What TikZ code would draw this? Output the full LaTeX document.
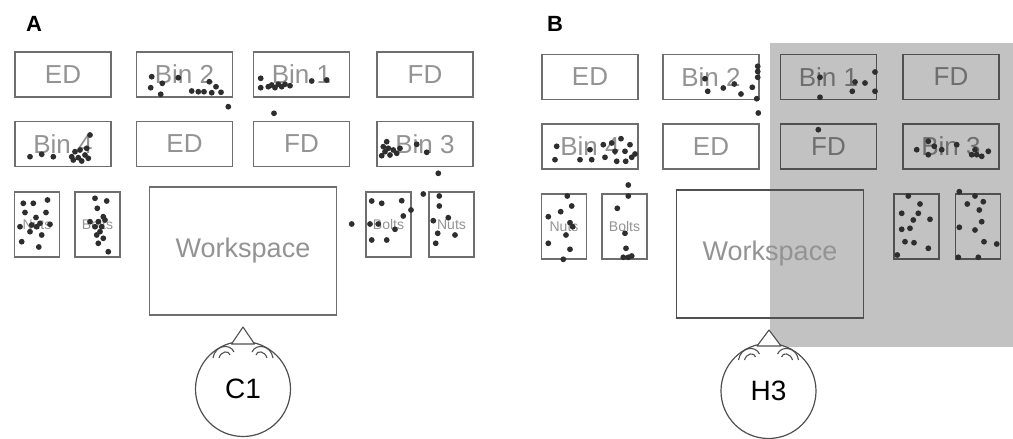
\documentclass[tikz,border=0pt]{standalone}
\usepackage{fontspec}
\setmainfont{Liberation Sans}
\definecolor{edgegray}{HTML}{6E6E6E}
\definecolor{labelgray}{HTML}{939393}
\definecolor{panelshade}{HTML}{C2C2C2}
\definecolor{dotc}{HTML}{2E2E2E}
\definecolor{headgray}{HTML}{505050}
\begin{document}
\begin{tikzpicture}[x=1pt,y=-1pt,
  bin/.style={draw=edgegray, line width=1.3pt, minimum width=96pt, minimum height=45pt,
    inner sep=0pt, text=labelgray, font=\fontsize{26}{26}\selectfont},
  tray/.style={draw=edgegray, line width=1.3pt, minimum width=45pt, minimum height=65pt,
    inner sep=0pt, text=labelgray, font=\fontsize{14}{14}\selectfont},
  work/.style={draw=edgegray, line width=1.3pt, minimum width=187pt, minimum height=128pt,
    inner sep=0pt, text=labelgray, font=\fontsize{27}{27}\selectfont},
  head/.style={circle, draw=headgray, line width=1.2pt, fill=white, minimum size=95pt,
    inner sep=0pt, font=\fontsize{28}{28}\selectfont},
  nose/.style={draw=headgray, line width=1.1pt, fill=white, line join=round},
  ear/.style={draw=headgray, line width=1.1pt},
  panel/.style={font=\bfseries\fontsize{22}{22}\selectfont},
  pt/.style={fill=dotc}
]
\useasboundingbox (0,0) rectangle (1013,439);

% shaded half of panel B
\fill[panelshade] (770,43) rectangle (1013,347);

% panel letters
\node[panel] (labA) at (34,24) {A};
\node[panel] (labB) at (555,24) {B};

% ---------- panel A layout ----------
\node[bin] (aED1) at (63,74.5) {ED};
\node[bin] (aBin2) at (184.5,74.5) {Bin 2};
\node[bin] (aBin1) at (301.5,74.5) {Bin 1};
\node[bin] (aFD1) at (425,74.5) {FD};
\node[bin] (aBin4) at (63,144) {Bin 4};
\node[bin] (aED2) at (184.5,144) {ED};
\node[bin] (aFD2) at (301.5,144) {FD};
\node[bin] (aBin3) at (425,144) {Bin 3};
\node[tray] (aNutsL) at (37,224.5) {Nuts};
\node[tray] (aBoltsL) at (97.5,224.5) {Bolts};
\node[tray] (aBoltsR) at (388.5,224.5) {Bolts};
\node[tray] (aNutsR) at (451.5,224.5) {Nuts};
\node[work] (aWork) at (243,251) {Workspace};

% ---------- panel B layout ----------
\node[bin] (bED1) at (590,77) {ED};
\node[bin] (bBin2) at (711,77) {Bin 2};
\node[bin, draw=headgray, text=edgegray] (bBin1) at (828.5,77) {Bin 1};
\node[bin, draw=headgray, text=edgegray] (bFD1) at (951,77) {FD};
\node[bin] (bBin4) at (590,146.5) {Bin 4};
\node[bin] (bED2) at (711,146.5) {ED};
\node[bin, draw=headgray, text=edgegray] (bFD2) at (828.5,146.5) {FD};
\node[bin, draw=headgray, text=edgegray] (bBin3) at (951,146.5) {Bin 3};
\node[tray] (bNutsL) at (564,226.5) {Nuts};
\node[tray] (bBoltsL) at (624.5,226.5) {Bolts};
\node[tray, draw=headgray] (bTrayR1) at (916.5,226.5) {};
\node[tray, draw=headgray] (bTrayR2) at (978,226.5) {};
\node[work, draw=headgray] (bWork) at (770,254) {Workspace};

% ---------- parts scattered in panel A ----------
\foreach \x/\y in {151.7/76.7, 150.7/87.7, 162.3/83.3, 160.7/94.3, 178.3/77.7, 191.7/91,
  198.3/91.7, 204/91.7, 209.3/81.7, 211.7/92.7, 216/86.7, 221/92.3, 228.3/106.7,
  260.7/78.3, 260.7/87.7, 268.3/86.7, 271.7/85, 275/87.7, 278.3/84.3, 281.7/86.7,
  285/84.3, 290/85.7, 311.7/81, 326.7/80, 274/113.3,
  30/156.7, 41.7/154.3, 53.3/156.7, 90/135, 71.7/156.7, 75/151.7, 80/150, 85/155,
  78.3/157.7, 73.3/160, 81.7/161, 88.3/158.3, 86.7/148.3,
  383.3/146.7, 385/151.7, 388.3/148.3, 390/155, 393.3/150, 396.7/153.3, 386.7/141.7,
  400/148.3, 416.7/144.3, 426.7/152.3, 381.7/155.7, 438.3/173.3,
  23.3/203.3, 33.3/203.3, 47.5/200, 25/212.5, 46/212.5, 36/217.5, 20/226.7, 31.7/225,
  36.7/226.7, 40/223.3, 30/231.7, 41.7/235, 50/224.3, 21.7/241.7, 38.8/247,
  95/198.3, 106.7/201, 97.3/208.3, 103.3/216.7, 90/221.7, 98.3/221.7, 105/220,
  101.7/226.7, 95/226.7, 96.7/235, 103.3/238.3, 98.3/243.3, 108.3/251.7, 100/231.7,
  371.7/201, 381.7/203.3, 401.7/200.7, 411/210, 403.3/216, 370/224, 378.3/224,
  395/229.3, 371.7/240, 386.7/240, 351.7/224, 423.3/194,
  439.3/196, 439.3/206, 433.3/220.7, 448.3/217.7, 437.7/233.3, 455/235, 435.7/243.3}
  \fill[pt] (\x,\y) circle (2.9pt);

% ---------- parts scattered in panel B ----------
\foreach \x/\y in {705/78.7, 707.7/91.3, 723.3/88, 734.3/84, 741/94, 752.3/87.3,
  757.7/66.3, 757.7/71.5, 757.7/77.3, 756.7/98.7, 758.3/113,
  820/77.3, 820/97.3, 852.3/91.3, 855/82, 865/83, 875/72, 875/91.3,
  556.7/146.3, 555/159.7, 580/159.7, 590/149.7, 591.7/159.7, 603.3/144.7, 611.7/143,
  621/138.7, 630/144.7, 615/151.3, 605/157.3, 625/151.3, 631.7/157.3, 616.7/161.3,
  625.7/161.3, 635/154,
  818.3/129.7, 916.7/149.7, 928.3/141.3, 928.3/154.7, 934.3/146.3, 941.7/149.7,
  956.7/144.7, 971.7/154.7, 976.7/154.7, 981.7/156.3, 988.3/151.3, 975/149.7,
  567.3/196, 571.7/206, 560.7/211.7, 548.3/216.7, 570/222.7, 572.7/226.7, 566/235,
  548.3/243.3, 570/249.3, 563.3/259.3,
  628.3/185, 628.3/196, 617.3/208.3, 625/233.3, 626/248.3, 623.3/257.3, 628.3/257.3,
  631.7/256,
  908.3/196, 920/204, 918.3/213.3, 901.7/213.3, 913.3/220, 930/219.3, 901.7/229.3,
  910/228.3, 905/241.7, 914/242.7, 928.3/248.3, 897.3/255,
  959.3/191.7, 975/196, 983.3/201.7, 967.3/204, 979.3/210, 981.7/221.7, 959.3/227.3,
  975/230, 984/241.7, 996.7/244, 958.3/257.3, 978.3/257.3}
  \fill[pt] (\x,\y) circle (2.9pt);

% ---------- observers ----------
\node[head] (headA) at (243,389) {C1};
\draw[nose] (243,327) -- (231.5,344) -- (254.5,344) -- cycle;
\draw[ear] (213,358) .. controls (215,345) and (230,343) .. (234,352);
\draw[ear] (219,358) .. controls (221,351) and (229,350) .. (230,355);
\draw[ear] (273,358) .. controls (271,345) and (256,343) .. (252,352);
\draw[ear] (267,358) .. controls (265,351) and (257,350) .. (256,355);

\node[head] (headB) at (768.5,391) {H3};
\draw[nose] (769,330) -- (757,346) -- (781,346) -- cycle;
\draw[ear] (738.5,360) .. controls (740.5,347) and (755.5,345) .. (759.5,354);
\draw[ear] (744.5,360) .. controls (746.5,353) and (754.5,352) .. (755.5,357);
\draw[ear] (798.5,360) .. controls (796.5,347) and (781.5,345) .. (777.5,354);
\draw[ear] (792.5,360) .. controls (790.5,353) and (782.5,352) .. (781.5,357);
\end{tikzpicture}
\end{document}
